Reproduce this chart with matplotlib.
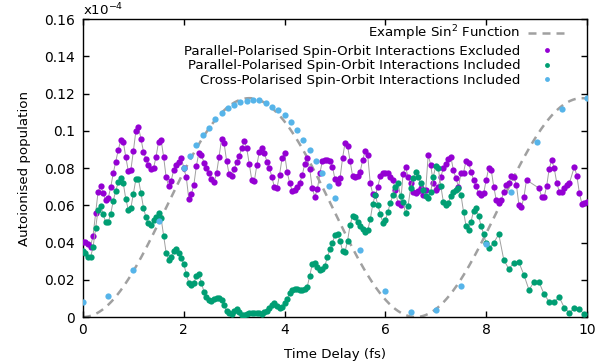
import numpy as np
import matplotlib
matplotlib.use("Agg")
import matplotlib.pyplot as plt
from matplotlib.lines import Line2D

# time grid of the dense runs (fs)
t_step = 0.05

# Parallel-polarised, spin-orbit excluded (None = no sample)
excluded = [
    0.0404, 0.0404, 0.0390, 0.0378, 0.0437, 0.0557, 0.0673, 0.0705, 0.0664, 0.0628,
    0.0637, 0.0696, 0.0771, 0.0834, 0.0897, 0.0950, 0.0941, 0.0857, 0.0784, 0.0789,
    0.0891, 0.1000, 0.1022, 0.0957, 0.0888, 0.0848, 0.0816, 0.0793, 0.0798, 0.0861,
    0.0941, 0.0950, 0.0861, 0.0750, 0.0703, 0.0732, 0.0789, 0.0816, 0.0834, 0.0855,
    0.0800, 0.0750, 0.0634, 0.0659, 0.0709, 0.0812, 0.0882, 0.0870, 0.0829, 0.0798,
    0.0771, 0.0739, 0.0723, 0.0771, 0.0861, 0.0956, 0.0933, 0.0838, 0.0766, 0.0757,
    0.0793, 0.0834, 0.0866, 0.0905, 0.0945, 0.0905, 0.0821, 0.0735, 0.0730, 0.0816,
    0.0888, 0.0905, 0.0879, 0.0834, 0.0802, 0.0750, 0.0696, 0.0694, 0.0763, 0.0852,
    0.0879, 0.0780, 0.0721, 0.0678, 0.0682, 0.0700, 0.0718, 0.0762, 0.0822, 0.0852,
    0.0793, 0.0690, 0.0646, 0.0685, 0.0771, 0.0838, 0.0843, 0.0843, 0.0840, 0.0808,
    0.0739, 0.0720, 0.0745, 0.0852, 0.0936, 0.0918, 0.0839, 0.0757, 0.0753, 0.0757,
    0.0780, 0.0843, 0.0893, 0.0868, 0.0718, 0.0660, 0.0653, 0.0700, 0.0757, 0.0771,
    0.0775, 0.0775, 0.0750, 0.0736, 0.0682, 0.0610, 0.0603, 0.0768, 0.0804, 0.0753,
    0.0718, 0.0673, 0.0668, 0.0678, 0.0691, 0.0655, 0.0682, 0.0870, 0.0816, 0.0721,
    0.0682, 0.0700, 0.0753, 0.0798, 0.0821, 0.0847, 0.0857, 0.0789, 0.0745, 0.0700,
    0.0771, 0.0775, 0.0839, 0.0829, 0.0780, 0.0736, 0.0703, 0.0664, 0.0655, 0.0664,
    0.0736, 0.0798, 0.0789, 0.0700, 0.0628, 0.0614, 0.0628, 0.0673, 0.0709, 0.0718,
    0.0757, 0.0750, 0.0709, 0.0601, 0.0589, 0.0646, 0.0736, None, None, None,
    None, 0.0691, 0.0646, 0.0643, 0.0703, 0.0796, 0.0843, 0.0798, 0.0721, 0.0673,
    0.0673, 0.0691, 0.0709, 0.0718, None, 0.0807, 0.0757, 0.0664, 0.0607, 0.0614,
    0.0617,
]

# Parallel-polarised, spin-orbit included: 0.05 fs steps up to 8 fs ...
included_dense = [
    0.0354, 0.0342, 0.0324, 0.0322, 0.0374, 0.0476, 0.0576, 0.0598, 0.0553, 0.0508,
    0.0508, 0.0553, 0.0623, 0.0678, 0.0723, 0.0748, 0.0718, 0.0633, 0.0576, 0.0585,
    0.0661, 0.0740, 0.0740, 0.0667, 0.0587, 0.0535, 0.0503, 0.0494, 0.0521, 0.0535,
    0.0556, 0.0530, 0.0437, 0.0345, 0.0306, 0.0324, 0.0354, 0.0363, 0.0342, 0.0315,
    0.0285, 0.0231, 0.0184, 0.0172, 0.0181, 0.0222, 0.0229, 0.0184, 0.0136, 0.0109,
    0.0091, 0.0088, 0.0095, 0.0100, 0.0104, 0.0091, 0.0064, 0.0034, 0.0023, 0.0016,
    0.0034, 0.0041, 0.0029, 0.0011, 0.0011, 0.0016, 0.0020, 0.0023, 0.0023, 0.0023,
    0.0020, 0.0016, 0.0025, 0.0034, 0.0047, 0.0064, 0.0073, 0.0059, 0.0047, 0.0056,
    0.0073, 0.0095, 0.0127, 0.0145, 0.0152, 0.0148, 0.0145, 0.0145, 0.0148, 0.0163,
    0.0222, 0.0285, 0.0292, 0.0270, 0.0252, 0.0256, 0.0274, 0.0324, 0.0363, 0.0399,
    0.0440, 0.0446, 0.0410, 0.0356, 0.0351, 0.0410, 0.0494, 0.0544, 0.0539, 0.0512,
    0.0489, 0.0471, 0.0458, 0.0467, 0.0524, 0.0607, 0.0655, 0.0601, 0.0553, 0.0506,
    0.0521, 0.0566, 0.0614, 0.0655, 0.0700, 0.0718, 0.0650, 0.0619, 0.0557, 0.0596,
    0.0691, 0.0745, 0.0780, 0.0753, 0.0718, 0.0682, 0.0650, 0.0637, 0.0673, 0.0753,
    0.0811, 0.0798, 0.0703, 0.0619, 0.0601, 0.0614, 0.0650, 0.0673, 0.0682, 0.0691,
    0.0655, 0.0566, 0.0490, 0.0467, 0.0512, 0.0571, 0.0583, 0.0542, 0.0488, 0.0444,
    0.0395,
]
# ... then 0.1 fs steps from 8.05 fs
included_sparse = [
    0.0368, 0.0399, 0.0444, 0.0306, 0.0258, 0.0292, 0.0293, 0.0225, 0.0145, 0.0190,
    0.0186, 0.0122, 0.0082, 0.0082, 0.0106, 0.0050, 0.0023, 0.0047, 0.0041, 0.0014,
]

# Cross-polarised, spin-orbit included
cross_t = [0.0, 0.5, 1.0, 1.5,
           2.0, 2.125, 2.25, 2.375, 2.5, 2.625, 2.75, 2.875, 3.0, 3.125, 3.25, 3.375,
           3.5, 3.625, 3.75, 3.875, 4.0, 4.125, 4.25, 4.375, 4.5, 4.625, 4.75, 4.875,
           5.0, 5.5, 6.0, 6.5, 7.0, 7.5, 8.0, 8.5, 9.0, 9.5, 10.0]
cross = [0.0080, 0.0113, 0.0252, 0.0516,
         0.0800, 0.0864, 0.0923, 0.0977, 0.1015, 0.1063, 0.1095, 0.1122, 0.1138, 0.1154,
         0.1160, 0.1165, 0.1165, 0.1150, 0.1130, 0.1110, 0.1085, 0.1047, 0.1004, 0.0950,
         0.0897, 0.0838, 0.0773, 0.0703, 0.0640, 0.0358, 0.0140, 0.0027, 0.0039, 0.0166,
         0.0390, 0.0670, 0.0938, 0.1117, 0.1176]

# example sin^2 curve parameters
sin2_amp = 0.1175
sin2_period = 6.6

c_excl = "#9400D3"
c_incl = "#009E73"
c_cross = "#56B4E9"
c_join = "#a0a0a0"
c_sin = "#a0a0a0"

ex = np.array(excluded, dtype=float)
t_ex = np.arange(len(ex)) * t_step
keep = ~np.isnan(ex)
t_ex, ex = t_ex[keep], ex[keep]

t_in = np.concatenate([np.arange(len(included_dense)) * t_step,
                       8.05 + np.arange(len(included_sparse)) * 0.1])
inc = np.array(included_dense + included_sparse)

t_fine = np.linspace(0, 10, 500)
sin2 = sin2_amp * np.sin(np.pi * t_fine / sin2_period) ** 2

fig, ax = plt.subplots(figsize=(6.11, 3.64), dpi=100)
fig.subplots_adjust(left=0.1358, right=0.9607, bottom=0.1291, top=0.9478)

ax.plot(t_fine, sin2, color=c_sin, lw=1.8, dashes=(3.2, 2.4), zorder=1)
ax.plot(t_ex, ex, color=c_join, lw=0.7, zorder=2)
ax.plot(t_ex, ex, "o", color=c_excl, ms=4.5, mew=0, zorder=3)
ax.plot(t_in, inc, color=c_join, lw=0.7, zorder=4)
ax.plot(t_in, inc, "o", color=c_incl, ms=4.5, mew=0, zorder=5)
ax.plot(cross_t, cross, "o", color=c_cross, ms=4.5, mew=0, zorder=6)

ax.set_xlim(0, 10)
ax.set_ylim(0, 0.16)
ax.set_xticks([0, 2, 4, 6, 8, 10])
ax.set_yticks([0, 0.02, 0.04, 0.06, 0.08, 0.1, 0.12, 0.14, 0.16])
ax.set_yticklabels(["0", "0.02", "0.04", "0.06", "0.08", "0.1", "0.12", "0.14", "0.16"])
ax.tick_params(direction="in", length=4.5, width=1, top=True, right=True,
               labelsize=10, pad=6)
ax.tick_params(axis="x", pad=4.5)
for s in ax.spines.values():
    s.set_linewidth(1.0)

ax.set_xlabel("Time Delay (fs)", fontsize=9.6, labelpad=8)
ax.set_ylabel("Autoionised population", fontsize=9.6, labelpad=9)
ax.text(0.0, 1.012, r"x10$^{-4}$", transform=ax.transAxes, ha="left",
        va="baseline", fontsize=9.6)

handles = [
    Line2D([], [], color=c_sin, lw=1.8, dashes=(3.2, 2.4)),
    Line2D([], [], ls="", marker="o", color=c_excl, ms=3.5, mew=0),
    Line2D([], [], ls="", marker="o", color=c_incl, ms=3.5, mew=0),
    Line2D([], [], ls="", marker="o", color=c_cross, ms=3.5, mew=0),
]
labels = [
    "Example Sin$^2$ Function",
    "Parallel-Polarised Spin-Orbit Interactions Excluded",
    "Parallel-Polarised Spin-Orbit Interactions Included",
    "Cross-Polarised Spin-Orbit Interactions Included",
]
# markerfirst=False right-aligns the rows, so the texts line up on the right
ax.legend(handles, labels, loc="upper right", bbox_to_anchor=(0.959, 0.985),
          frameon=False, markerfirst=False, fontsize=9.6, borderpad=0,
          borderaxespad=0, handlelength=2.85, handletextpad=0.6,
          labelspacing=0.12)

fig.savefig("out.png", dpi=100)
